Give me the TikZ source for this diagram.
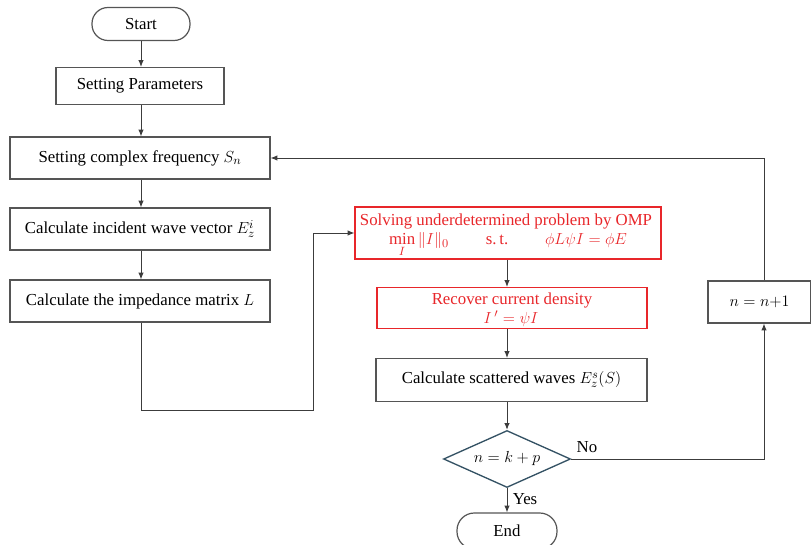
\documentclass[tikz,border=0pt]{standalone}
\usepackage{fontspec}
\setmainfont{Liberation Serif}
\usepackage{amsmath}
\usetikzlibrary{shapes.geometric,arrows.meta,calc}
\definecolor{boxline}{RGB}{85,85,85}
\definecolor{conn}{RGB}{60,60,60}
\definecolor{redc}{RGB}{232,38,42}
\definecolor{diam}{RGB}{52,82,100}
\begin{document}
\begin{tikzpicture}[x=0.75pt,y=-0.75pt,
  sz/.style 2 args={minimum width=#1*0.75pt, minimum height=#2*0.75pt},
  every node/.style={font=\fontsize{12.6}{14.5}\selectfont, inner sep=0pt, align=center},
  box/.style={draw=boxline, line width=0.9pt, rectangle},
  redbox/.style={draw=redc, line width=0.9pt, rectangle, text=redc},
  term/.style={draw=boxline, line width=0.9pt, rectangle, rounded corners=12pt},
  dec/.style={draw=diam, line width=1pt, diamond, aspect=2.2},
  conn/.style={draw=conn, line width=0.7pt},
  arr/.style={conn, -{Latex[length=5pt,width=4pt]}},
  lab/.style={font=\fontsize{12.6}{14.5}\selectfont}
]
\useasboundingbox (0,0) rectangle (811,545);
\node[term, sz={98}{33}] (start) at (141,24) {Start};
\node[box, sz={168}{37}] (params) at (140,86) {Setting Parameters};
\node[box, sz={260}{42}] (freq) at (140,158) {Setting complex frequency $S_n$};
\node[box, sz={260}{42}] (inc) at (140,229) {Calculate incident wave vector $E_z^i$};
\node[box, sz={260}{42}] (imp) at (140,301) {Calculate the impedance matrix $L$};
\node[redbox, sz={306}{52}] (omp) at (508,233) {};
\node[text=redc] (omp1) at (506,221) {Solving underdetermined problem by OMP};
\node[text=redc, anchor=base] (omp2) at (508,245) {$\min\limits_{I}\|I\|_0$\hspace{2.2em}s.\,t.\hspace{2.2em}$\phi L\psi I=\phi E$};
\node[redbox, sz={270}{41}] (rec) at (512,308) {};
\node[text=redc] (rec1) at (512,300) {Recover current density};
\node[text=redc] (rec2) at (511,319) {$I\,'=\psi I$};
\node[box, sz={271}{43}] (scat) at (511.5,380) {Calculate scattered waves $E_z^s(S)$};
\node[dec, minimum width=127*0.75pt, minimum height=57*0.75pt] (dec) at (507,459) {$n=k+p$};
\node[term, sz={100}{36}, rounded corners=13pt] (end) at (507,531) {End};
\node[box, sz={103}{42}] (inc1) at (759.5,302) {$n=n{+}1$};
\coordinate (xr) at (764,0);
\coordinate (xm) at (507,0);
\coordinate (c1) at (313,410);
\coordinate (xl) at (141,0);
\draw[arr] (start.south) -- (params.north -| start.south);
\draw[arr] (params.south -| xl) -- (freq.north -| xl);
\draw[arr] (freq.south -| xl) -- (inc.north -| xl);
\draw[arr] (inc.south -| xl) -- (imp.north -| xl);
\draw[arr] (imp.south -| xl) |- (c1) |- (omp.west);
\draw[arr] (omp.south -| xm) -- (rec.north -| xm);
\draw[arr] (rec.south -| xm) -- (scat.north -| xm);
\draw[arr] (scat.south -| xm) -- (dec.north);
\draw[arr] (dec.south) -- (end.north) node[pos=0.45, right=4pt, lab] {Yes};
\draw[arr] (dec.east) -| (inc1.south -| xr);
\node[lab] (no) at (587,447) {No};
\draw[arr] (inc1.north -| xr) |- (freq.east);
\end{tikzpicture}
\end{document}
